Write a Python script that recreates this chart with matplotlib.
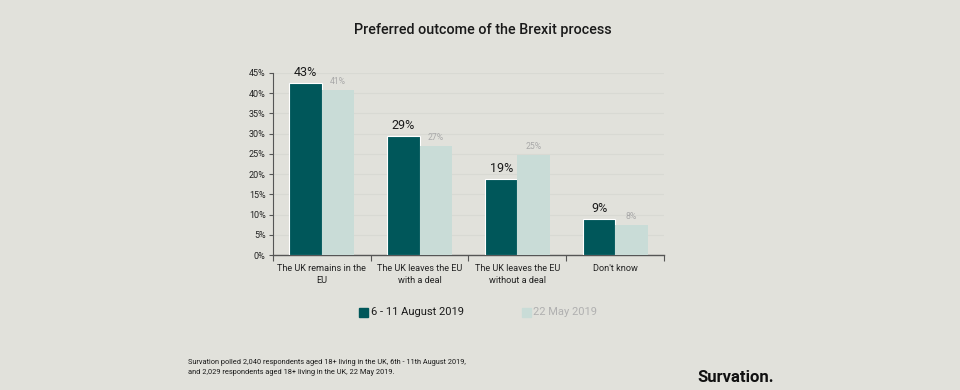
import matplotlib
matplotlib.use("Agg")
import matplotlib.pyplot as plt
import numpy as np

categories = ["The UK remains in the\nEU", "The UK leaves the EU\nwith a deal",
              "The UK leaves the EU\nwithout a deal", "Don't know"]
aug_2019 = [42.6, 29.5, 18.8, 9.0]
may_2019 = [40.7, 27.0, 24.6, 7.4]
aug_labels = ["43%", "29%", "19%", "9%"]
may_labels = ["41%", "27%", "25%", "8%"]
yticks = [0, 5, 10, 15, 20, 25, 30, 35, 40, 45]
series_names = ["6 - 11 August 2019", "22 May 2019"]

BG = "#e1e1db"
DARK = "#00575a"
LIGHT = "#c9dcd7"

plt.rcParams['font.family'] = ['Roboto', 'DejaVu Sans']

fig = plt.figure(figsize=(9.6, 3.9), dpi=100, facecolor=BG)
ax = fig.add_axes([0.284, 0.346, 0.408, 0.467])
ax.set_facecolor(BG)

x = np.arange(len(categories))
w = 0.33
ax.bar(x - w/2, aug_2019, w, color=DARK, edgecolor="white", linewidth=0.8, zorder=3)
ax.bar(x + w/2, may_2019, w, color=LIGHT, linewidth=0, zorder=3)

for xi, v, lab in zip(x, aug_2019, aug_labels):
    ax.text(xi - w/2, v + 1.0, lab, ha="center", va="bottom", fontsize=9, color="#1a1a1a")
for xi, v, lab in zip(x, may_2019, may_labels):
    ax.text(xi + w/2, v + 1.0, lab, ha="center", va="bottom", fontsize=6.2, color="#a8a8a8")

ax.set_xlim(-0.5, len(categories) - 0.5)
ax.set_ylim(0, 45)
ax.set_yticks(yticks)
ax.set_yticklabels([f"{t}%" for t in yticks], fontsize=6.5, color="#222222")
ax.set_xticks(np.arange(len(categories) + 1) - 0.5)
ax.set_xticklabels([])
ax.tick_params(axis="x", length=4, width=0.8, color="#555555", direction="out")
ax.tick_params(axis="y", length=3, width=0.8, color="#555555", pad=2)
for xi, c in zip(x, categories):
    ax.text(xi, -2.2, c, ha="center", va="top", fontsize=6.6, color="#222222", linespacing=1.4)

ax.grid(axis="y", color="#d8d9d3", linewidth=0.8, zorder=0)
for s in ["top", "right"]:
    ax.spines[s].set_visible(False)
ax.spines["left"].set_color("#555555")
ax.spines["bottom"].set_color("#555555")
ax.spines["left"].set_linewidth(0.8)
ax.spines["bottom"].set_linewidth(1.0)

fig.text(0.503, 0.923, "Preferred outcome of the Brexit process", ha="center", va="center",
         fontsize=10.4, fontweight="medium", color="#1a1a1a")

# legend
fig.patches.append(plt.Rectangle((0.374, 0.188), 0.009, 0.022, transform=fig.transFigure, color=DARK))
fig.text(0.386, 0.199, series_names[0], ha="left", va="center", fontsize=8, color="#1a1a1a")
fig.patches.append(plt.Rectangle((0.544, 0.188), 0.009, 0.022, transform=fig.transFigure, color=LIGHT))
fig.text(0.555, 0.199, series_names[1], ha="left", va="center", fontsize=8, color="#b0b0b0")

fig.text(0.196, 0.057, "Survation polled 2,040 respondents aged 18+ living in the UK, 6th - 11th August 2019,\n"
         "and 2,029 respondents aged 18+ living in the UK, 22 May 2019.",
         ha="left", va="center", fontsize=5.3, color="#1a1a1a", linespacing=1.55)
fig.text(0.806, 0.033, "Survation.", ha="right", va="center", fontsize=12, fontweight="bold", color="#111111")

fig.savefig("out.png", dpi=100, facecolor=BG)
